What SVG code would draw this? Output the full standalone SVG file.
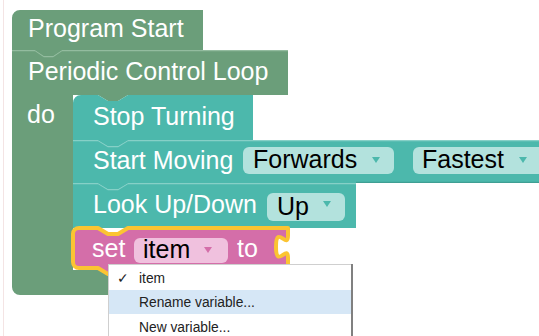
<svg xmlns="http://www.w3.org/2000/svg" width="539" height="336" viewBox="0 0 539 336">
<style>
.lbl{font-family:"Liberation Sans",Arial,sans-serif;font-size:25px;fill:#fff}
.fld{font-family:"Liberation Sans",Arial,sans-serif;font-size:25px;fill:#000}
.menu{font-family:"Liberation Sans",Arial,sans-serif;font-size:13.8px;fill:#222}
.green{fill:#6b9e7a}
.teal{fill:#4cb8ac}
.tealF{fill:#b3e2dd}
.tealA{fill:#4cb8ac}
.hlG{fill:none;stroke:#93bc9f;stroke-width:1.2}
.hlT{fill:none;stroke:#86d0c7;stroke-width:1.2}
.dkT{fill:none;stroke:#3f9f94;stroke-width:1.2}
</style>
<rect width="539" height="336" fill="#fff"/>
<line x1="3.5" y1="0" x2="3.5" y2="336" stroke="#f4e4e4" stroke-width="1"/>

<g id="loop">
<path class="green" d="M12,50 H288 V95 H128 l-10,6 h-10 l-10,-6 H73 V270 H125 V295 H20 a8,8 0 0 1 -8,-8 Z"/>
<path class="hlG" d="M12,50.6 H35 l9,6 h9 l9,-6 H288"/>
<text class="lbl" x="28" y="80">Periodic Control Loop</text>
<text class="lbl" x="27" y="123">do</text>
</g>

<g id="program-start">
<path class="green" d="M12,18 a8,8 0 0 1 8,-8 H203 V50 H62 l-9,6 h-9 l-9,-6 H12 Z"/>
<text class="lbl" x="28" y="37">Program Start</text>
</g>

<g id="look-up-down">
<path class="teal" d="M73,183 H356 V228 H73 Z"/>
<path class="hlT" d="M73,183.6 H98 l10,6 h10 l10,-6 H356"/>
<text class="lbl" x="93" y="213">Look Up/Down</text>
<rect class="tealF" x="267" y="193" width="78" height="28" rx="6"/>
<text class="fld" x="277" y="215">Up</text>
<polygon class="tealA" points="323,201 331,201 327,207"/>
</g>

<g id="start-moving">
<path class="teal" d="M73,140 H545 V183 H128 l-10,6 h-10 l-10,-6 H73 Z"/>
<path class="hlT" d="M73,140.6 H98 l10,6 h10 l10,-6 H545"/>
<path class="dkT" d="M356,182.4 H545"/>
<text class="lbl" x="93" y="169">Start Moving</text>
<rect class="tealF" x="243" y="147" width="151" height="27" rx="6"/>
<text class="fld" x="253" y="168">Forwards</text>
<polygon class="tealA" points="372,157 380,157 376,163"/>
<rect class="tealF" x="413" y="147" width="140" height="27" rx="6"/>
<text class="fld" x="422" y="168">Fastest</text>
<polygon class="tealA" points="519,157 527,157 523,163"/>
</g>

<g id="stop-turning">
<path class="teal" d="M73,103 a8,8 0 0 1 8,-8 H98 l10,6 h10 l10,-6 H253 V140 H128 l-10,6 h-10 l-10,-6 H73 Z"/>
<text class="lbl" x="93" y="125">Stop Turning</text>
</g>

<g id="set-item">
<path d="M73,234 a6,6 0 0 1 6,-6 H98 l10,6 h10 l10,-6 H288 v7.5 c0,15 -12,-12 -12,11.25 s12,-3.75 12,11.25 V268 H128 l-10,6 h-10 l-10,-6 H79 a6,6 0 0 1 -6,-6 Z" fill="#d46ea9" stroke="#fbc432" stroke-width="4" stroke-linejoin="round"/>
<text class="lbl" x="92" y="257">set</text>
<rect x="134" y="238" width="94" height="25" rx="6" fill="#f0c1de"/>
<text class="fld" x="143" y="258">item</text>
<polygon points="204,247 212,247 208,253" fill="#d46ea9"/>
<text class="lbl" x="237" y="257">to</text>
</g>

<g id="menu">
<rect x="108.5" y="264.5" width="243" height="80" fill="#fff" stroke="#cfcfcf" stroke-width="1"/>
<line x1="352" y1="264" x2="352" y2="336" stroke="#808080" stroke-width="2"/>
<rect x="109" y="290" width="242" height="24" fill="#d6e7f6"/>
<text class="menu" x="117" y="283" font-size="15">✓</text>
<text class="menu" x="139" y="283">item</text>
<text class="menu" x="139" y="307">Rename variable...</text>
<text class="menu" x="139" y="332">New variable...</text>
</g>
</svg>
